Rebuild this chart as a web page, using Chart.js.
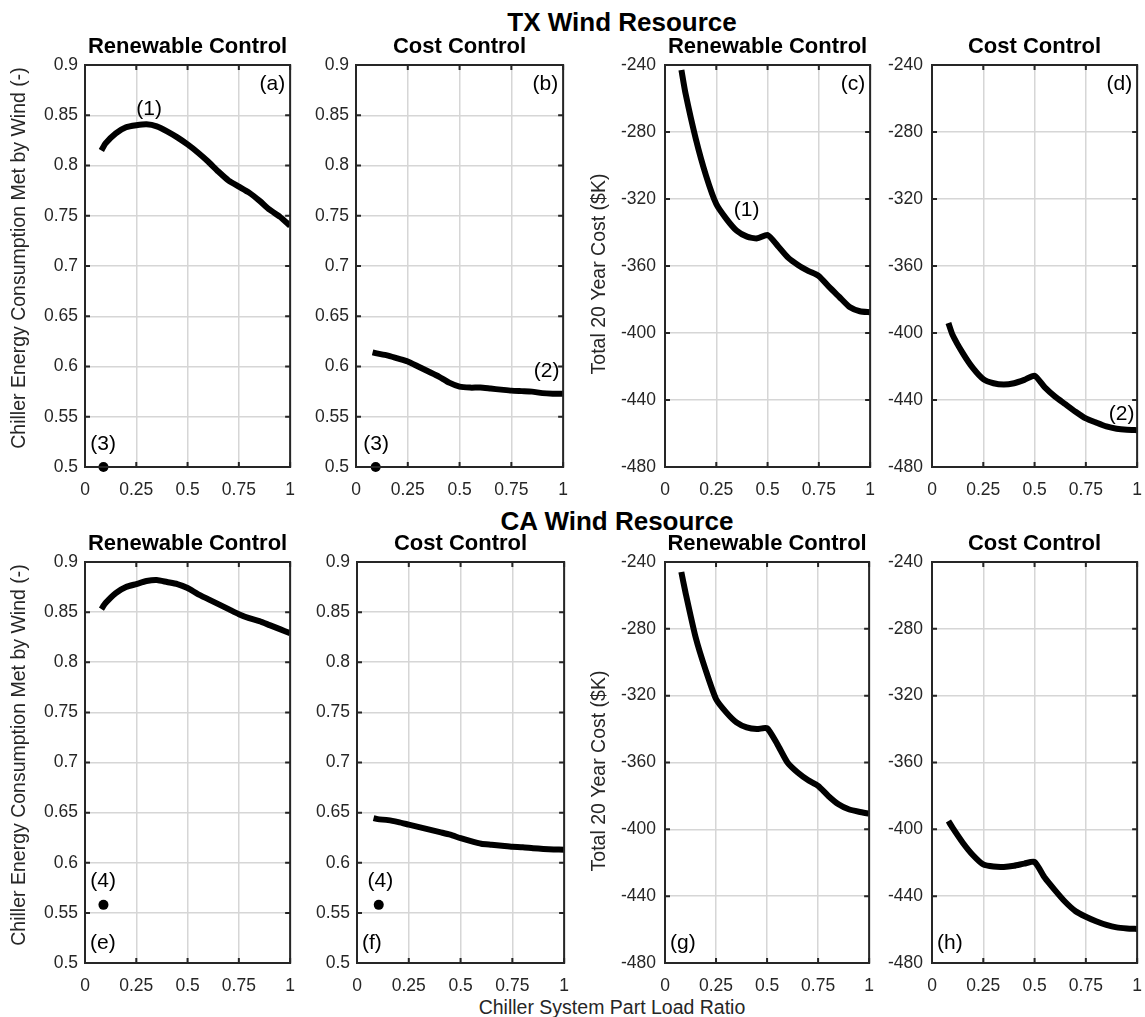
<!DOCTYPE html>
<html lang="en">
<head>
<meta charset="UTF-8">
<title>Chiller Part Load Ratio - TX / CA Wind Resource</title>
<script src="https://cdn.jsdelivr.net/npm/chart.js"></script>
<style>
body { margin: 0; background: #fff; overflow: hidden; }
#fig { position: relative; width: 1145px; height: 1017px; font-family: "Liberation Sans", Arial, sans-serif; color: #000; }
#fig canvas { position: absolute; }
.sup { position: absolute; font-weight: bold; font-size: 26px; line-height: 26px; transform: translate(-50%, -50%); white-space: nowrap; }
.xlab { position: absolute; font-size: 19.5px; line-height: 20px; color: #262626; transform: translate(-50%, -50%); white-space: nowrap; }
</style>
</head>
<body>
<div id="fig">
  <div class="sup" style="left:622px; top:22px;">TX Wind Resource</div>
  <div class="sup" style="left:617px; top:521px;">CA Wind Resource</div>
  <div class="xlab" style="left:612px; top:1007px;">Chiller System Part Load Ratio</div>
</div>
<script>
// part load ratio samples (x for every curve)
const plr = [0.08, 0.1, 0.15, 0.2, 0.25, 0.3, 0.35, 0.4, 0.45, 0.5,
             0.55, 0.6, 0.65, 0.7, 0.75, 0.8, 0.85, 0.9, 0.95, 1.0];

// fraction of chiller energy met by wind
const txRenewShare = [0.815, 0.822, 0.832, 0.838, 0.840, 0.841, 0.839, 0.834, 0.828, 0.821,
                      0.813, 0.804, 0.794, 0.785, 0.779, 0.773, 0.765, 0.756, 0.749, 0.740];
const txCostShare  = [0.614, 0.613, 0.611, 0.608, 0.605, 0.600, 0.595, 0.590, 0.584, 0.580,
                      0.579, 0.579, 0.578, 0.577, 0.576, 0.5755, 0.575, 0.5735, 0.573, 0.573];
const caRenewShare = [0.853, 0.859, 0.869, 0.875, 0.878, 0.881, 0.882, 0.880, 0.878, 0.874,
                      0.868, 0.863, 0.858, 0.853, 0.848, 0.844, 0.841, 0.837, 0.833, 0.829];
const caCostShare  = [0.6445, 0.6435, 0.6425, 0.6405, 0.638, 0.6355, 0.633, 0.6305, 0.628, 0.6245,
                      0.6215, 0.619, 0.618, 0.617, 0.616, 0.6155, 0.6145, 0.6138, 0.6133, 0.613];

// total 20 year cost ($K)
const txRenewCost = [-243, -257, -284, -306, -323, -332, -339, -342.5, -343.5, -341.5,
                     -348, -355, -359.5, -363, -366, -372.5, -378.5, -384.5, -387, -387.6];
const txCostCost  = [-394, -401, -412, -421, -427.5, -430, -430.8, -430, -428, -425.5,
                     -432.5, -438, -442.5, -447, -451, -453.5, -455.8, -457.2, -457.8, -458];
const caRenewCost = [-246, -258, -285, -305, -322, -330, -336, -339, -340, -339.5,
                     -349, -360, -366, -370.5, -374, -380, -385, -388, -389.5, -390.6];
const caCostCost  = [-395, -399, -408, -415.5, -421, -422.3, -422.5, -421.8, -420.5, -419.5,
                     -429, -436.5, -443.5, -449, -452.3, -455, -457.2, -458.7, -459.3, -459.6];

// single reference points (3) and (4)
const refPlr   = [0.09, 0.095, 0.09, 0.105];
const refShare = [0.5, 0.5, 0.558, 0.558];

// tick values
const xTicks     = [0, 0.25, 0.5, 0.75, 1];
const shareTicks = [0.5, 0.55, 0.6, 0.65, 0.7, 0.75, 0.8, 0.85, 0.9];
const costTicks  = [-480, -440, -400, -360, -320, -280, -240];

const FONT = 'Liberation Sans';
const AX = '#262626';
const M_L = 85, M_T = 50, M_R = 12, M_B = 40;

// draws the box, inward ticks and all the text that MATLAB puts on an axes
const decor = {
  id: 'decor',
  afterDatasetsDraw(chart, args, o) {
    const ctx = chart.ctx, a = chart.chartArea;
    const sx = chart.scales.x, sy = chart.scales.y;
    ctx.save();
    ctx.strokeStyle = AX;
    ctx.lineWidth = 2;
    ctx.beginPath();
    xTicks.forEach(v => {
      const p = sx.getPixelForValue(v);
      ctx.moveTo(p, a.bottom); ctx.lineTo(p, a.bottom - 5);
      ctx.moveTo(p, a.top); ctx.lineTo(p, a.top + 5);
    });
    o.yTicks.forEach(v => {
      const p = sy.getPixelForValue(v);
      ctx.moveTo(a.left, p); ctx.lineTo(a.left + 5, p);
      ctx.moveTo(a.right, p); ctx.lineTo(a.right - 5, p);
    });
    ctx.stroke();
    ctx.strokeRect(a.left, a.top, a.right - a.left, a.bottom - a.top);

    ctx.fillStyle = '#000';
    ctx.textBaseline = 'middle';
    ctx.textAlign = 'center';
    ctx.font = 'bold 22px "' + FONT + '"';
    ctx.fillText(o.title, (a.left + a.right) / 2, a.top - 18);

    ctx.font = '21px "' + FONT + '"';
    if (o.letterTop) {
      ctx.textAlign = 'right';
      ctx.fillText(o.letter, a.right - 5, a.top + 19);
    } else {
      ctx.textAlign = 'left';
      ctx.fillText(o.letter, a.left + 5, a.bottom - 20);
    }
    ctx.textAlign = 'center';
    (o.notes || []).forEach(n => {
      ctx.fillText(n.text, sx.getPixelForValue(n.x), sy.getPixelForValue(n.y));
    });

    if (o.ylabel) {
      ctx.fillStyle = AX;
      ctx.font = '19.5px "' + FONT + '"';
      ctx.translate(20, a.top + o.ylabelOff);
      ctx.rotate(-Math.PI / 2);
      ctx.fillText(o.ylabel, 0, 0);
    }
    ctx.restore();
  }
};

function makePanel(p) {
  const W = p.rect[2] - p.rect[0], H = p.rect[3] - p.rect[1];
  const cv = document.createElement('canvas');
  cv.width = W + M_L + M_R;
  cv.height = H + M_T + M_B;
  cv.style.left = (p.rect[0] - M_L) + 'px';
  cv.style.top = (p.rect[1] - M_T) + 'px';
  document.getElementById('fig').appendChild(cv);

  const cost = p.kind === 'cost';
  const yTicks = cost ? costTicks : shareTicks;
  const datasets = [{
    data: plr.map((v, i) => ({ x: v, y: p.series[i] })),
    borderColor: '#000',
    borderWidth: 6,
    borderJoinStyle: 'round',
    pointRadius: 0,
    tension: 0.2,
    fill: false
  }];
  if (p.ref !== undefined) {
    datasets.push({
      data: [{ x: refPlr[p.ref], y: refShare[p.ref] }],
      showLine: false,
      pointRadius: 5,
      pointBackgroundColor: '#000',
      pointBorderWidth: 0,
      clip: false
    });
  }
  const gridOpt = { color: '#d6d6d6', lineWidth: 1.5, drawTicks: false };
  const tickFont = { family: FONT, size: 17.5 };

  new Chart(cv, {
    type: 'line',
    data: { datasets: datasets },
    options: {
      responsive: false,
      animation: false,
      events: [],
      layout: { padding: { left: 0, top: M_T, right: M_R, bottom: 0 } },
      plugins: {
        legend: { display: false },
        tooltip: { enabled: false },
        decor: {
          title: p.title, letter: p.letter, letterTop: p.letterTop,
          notes: p.notes, ylabel: p.ylabel, ylabelOff: p.ylabelOff, yTicks: yTicks
        }
      },
      scales: {
        x: {
          type: 'linear', min: 0, max: 1,
          afterBuildTicks: s => { s.ticks = xTicks.map(v => ({ value: v })); },
          afterFit: s => { s.height = M_B; },
          ticks: { font: tickFont, color: AX, padding: 13, maxRotation: 0, autoSkip: false,
                   callback: v => String(v) },
          grid: gridOpt,
          border: { display: false }
        },
        y: {
          type: 'linear',
          min: cost ? -480 : 0.5, max: cost ? -240 : 0.9,
          afterBuildTicks: s => { s.ticks = yTicks.map(v => ({ value: v })); },
          afterFit: s => { s.width = M_L; },
          ticks: { font: tickFont, color: AX, padding: cost ? 9 : 7, autoSkip: false,
                   callback: v => String(+v.toFixed(2)) },
          grid: gridOpt,
          border: { display: false }
        }
      }
    },
    plugins: [decor]
  });
}

const shareLabel = 'Chiller Energy Consumption Met by Wind (-)';
const costLabel = 'Total 20 Year Cost ($K)';

makePanel({ rect: [85, 65, 296, 467], kind: 'share', series: txRenewShare, ref: 0,
  title: 'Renewable Control', letter: '(a)', letterTop: true, ylabel: shareLabel, ylabelOff: 193,
  notes: [{ text: '(1)', x: 0.313, y: 0.856 }, { text: '(3)', x: 0.088, y: 0.523 }] });
makePanel({ rect: [356, 65, 569, 467], kind: 'share', series: txCostShare, ref: 1,
  title: 'Cost Control', letter: '(b)', letterTop: true,
  notes: [{ text: '(2)', x: 0.92, y: 0.5955 }, { text: '(3)', x: 0.097, y: 0.523 }] });
makePanel({ rect: [665, 65, 876, 467], kind: 'cost', series: txRenewCost,
  title: 'Renewable Control', letter: '(c)', letterTop: true, ylabel: costLabel, ylabelOff: 209,
  notes: [{ text: '(1)', x: 0.398, y: -326.6 }] });
makePanel({ rect: [932, 65, 1143, 467], kind: 'cost', series: txCostCost,
  title: 'Cost Control', letter: '(d)', letterTop: true,
  notes: [{ text: '(2)', x: 0.924, y: -448.4 }] });

makePanel({ rect: [85, 562, 296, 963], kind: 'share', series: caRenewShare, ref: 2,
  title: 'Renewable Control', letter: '(e)', letterTop: false, ylabel: shareLabel, ylabelOff: 193,
  notes: [{ text: '(4)', x: 0.088, y: 0.582 }] });
makePanel({ rect: [357, 562, 570, 963], kind: 'share', series: caCostShare, ref: 3,
  title: 'Cost Control', letter: '(f)', letterTop: false,
  notes: [{ text: '(4)', x: 0.113, y: 0.582 }] });
makePanel({ rect: [665, 562, 875, 963], kind: 'cost', series: caRenewCost,
  title: 'Renewable Control', letter: '(g)', letterTop: false, ylabel: costLabel, ylabelOff: 209,
  notes: [] });
makePanel({ rect: [932, 562, 1143, 963], kind: 'cost', series: caCostCost,
  title: 'Cost Control', letter: '(h)', letterTop: false,
  notes: [] });
</script>
</body>
</html>
